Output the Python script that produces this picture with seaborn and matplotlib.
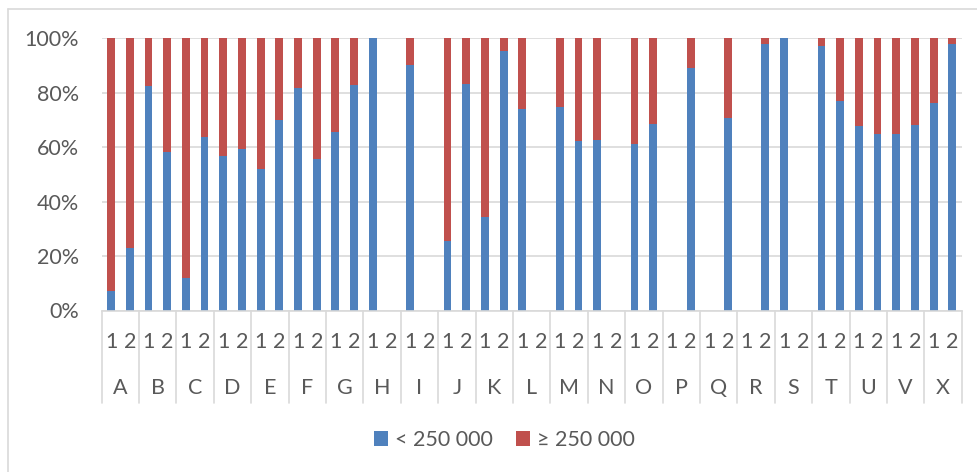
import matplotlib
matplotlib.use("Agg")
import numpy as np
import pandas as pd
import matplotlib.pyplot as plt
import matplotlib.transforms as mtransforms
from matplotlib.lines import Line2D
from matplotlib.patches import Patch
import seaborn as sns

# Regions and the two sub-periods shown for each
regions = ["A", "B", "C", "D", "E", "F", "G", "H", "I", "J", "K", "L",
           "M", "N", "O", "P", "Q", "R", "S", "T", "U", "V", "X"]
subperiods = ["1", "2"]

# Share (%) below 250 000, period 1 and period 2 (None = no data)
under_1 = [7.1, 82.6, 11.9, 56.6, 52.0, 81.6, 65.5, 100.0, 90.2, 25.4, 34.5, 73.9,
           74.8, 62.8, 61.3, None, None, None, 100.0, 97.3, 67.9, 65.0, 76.4]
under_2 = [23.1, 58.4, 63.9, 59.3, 69.9, 55.7, 82.8, None, None, 83.3, 95.3, None,
           62.3, None, 68.5, 89.2, 70.6, 97.8, None, 76.9, 65.0, 68.2, 97.8]

# Share (%) at or above 250 000
over_1 = [92.9, 17.4, 88.1, 43.4, 48.0, 18.4, 34.5, 0.0, 9.8, 74.6, 65.5, 26.1,
          25.2, 37.2, 38.7, None, None, None, 0.0, 2.7, 32.1, 35.0, 23.6]
over_2 = [76.9, 41.6, 36.1, 40.7, 30.1, 44.3, 17.2, None, None, 16.7, 4.7, None,
          37.7, None, 31.5, 10.8, 29.4, 2.2, None, 23.1, 35.0, 31.8, 2.2]

series_labels = ["< 250 000", "\u2265 250 000"]

BLUE = "#4F81BD"
RED = "#C0504D"
GRID = "#D9D9D9"
TEXT = "#595959"
FS = 15.5

rows = []
for i, reg in enumerate(regions):
    for sub, u, o in (("1", under_1[i], over_1[i]), ("2", under_2[i], over_2[i])):
        rows.append({"slot": reg + sub, "region": reg, "sub": sub,
                     "under": np.nan if u is None else u,
                     "over": np.nan if o is None else o})
df = pd.DataFrame(rows)
df["total"] = df["under"] + df["over"]
order = df["slot"].tolist()

sns.set_theme(style="white")
plt.rcParams["font.family"] = ["Lato", "DejaVu Sans"]

W, H = 978, 472
fig = plt.figure(figsize=(W / 100, H / 100), dpi=100)
left, right, top, bottom = 101.7, 961.7, 38.3, 310.5
ax = fig.add_axes([left / W, 1 - bottom / H, (right - left) / W, (bottom - top) / H])

# Stacked 100% columns: upper segment drawn to the full total, lower on top of it
sns.barplot(data=df, x="slot", y="total", order=order, color=RED, width=0.42,
            saturation=1, errorbar=None, linewidth=0, ax=ax)
sns.barplot(data=df, x="slot", y="under", order=order, color=BLUE, width=0.42,
            saturation=1, errorbar=None, linewidth=0, ax=ax)

ax.set_xlim(-0.5, len(order) - 0.5)
ax.set_ylim(0, 100)
ax.set_yticks(range(0, 101, 20))
ax.set_yticklabels([f"{v}%" for v in range(0, 101, 20)])
ax.set_xticks([])
ax.set_xlabel("")
ax.set_ylabel("")
ax.yaxis.grid(True, color=GRID, linewidth=1.2)
ax.set_axisbelow(True)
for s in ("top", "right", "left"):
    ax.spines[s].set_visible(False)
ax.spines["bottom"].set_color(GRID)
ax.spines["bottom"].set_linewidth(1.2)
ax.tick_params(axis="y", length=0, pad=16.5, labelsize=FS, labelcolor=TEXT)

# Two-level category axis
trans = mtransforms.blended_transform_factory(ax.transData, ax.transAxes)
for k in range(len(regions) + 1):
    x = 2 * k - 0.5
    ax.add_line(Line2D([x, x], [0, -0.34], transform=trans, clip_on=False,
                       color=GRID, linewidth=1.2))
for j, row in df.iterrows():
    ax.text(j, -0.117, row["sub"], transform=trans, ha="center", va="center",
            fontsize=FS, color=TEXT)
for i, reg in enumerate(regions):
    ax.text(2 * i + 0.5, -0.286, reg, transform=trans, ha="center", va="center",
            fontsize=FS, color=TEXT)

handles = [Patch(facecolor=BLUE, edgecolor="none"), Patch(facecolor=RED, edgecolor="none")]
fig.legend(handles, series_labels, loc="center", bbox_to_anchor=(0.516, 1 - 440 / H),
           ncol=2, frameon=False, fontsize=FS, handlelength=0.65, handleheight=0.65,
           handletextpad=0.3, columnspacing=1.1, labelcolor=TEXT)

# Chart area border
fig.add_artist(Line2D([8.3 / W, 8.3 / W], [1 - 9.3 / H, 0], transform=fig.transFigure,
                      color=GRID, linewidth=1.2))
fig.add_artist(Line2D([8.3 / W, 1], [1 - 9.3 / H, 1 - 9.3 / H], transform=fig.transFigure,
                      color=GRID, linewidth=1.2))

fig.savefig("out.png", dpi=100)
